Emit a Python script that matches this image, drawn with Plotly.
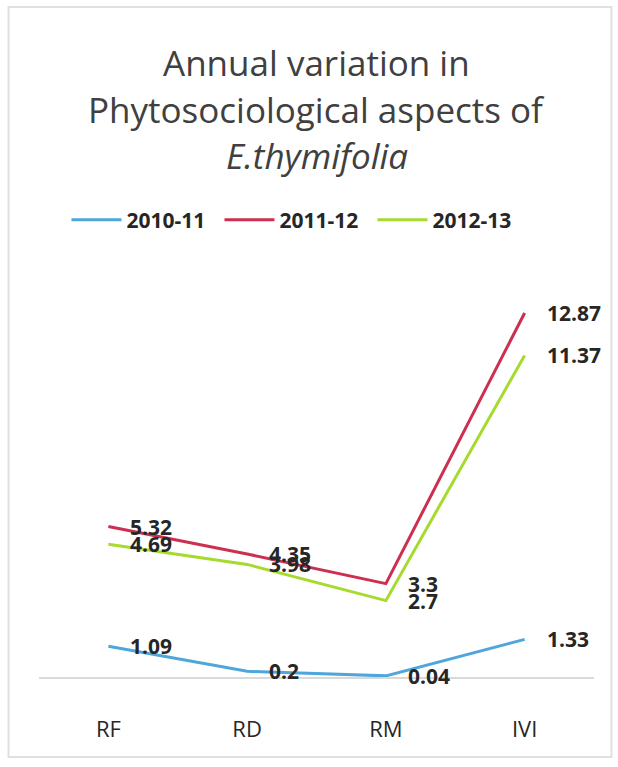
import plotly.graph_objects as go

categories = ["RF", "RD", "RM", "IVI"]
series_names = ["2010-11", "2011-12", "2012-13"]
values_2010_11 = [1.09, 0.2, 0.04, 1.33]
values_2011_12 = [5.32, 4.35, 3.3, 12.87]
values_2012_13 = [4.69, 3.98, 2.7, 11.37]
colors = ["#4FA6DA", "#CC2F50", "#A6DA2C"]

all_values = [values_2010_11, values_2011_12, values_2012_13]

L, R, T, B = 38.5, 23.5, 281, 90
W, H = 618, 767
pw, ph = W - L - R, H - T - B

def px_x(p):
    return (p - L) / pw

def px_y(p):
    return (H - B - p) / ph

fig = go.Figure()
for name, vals, col in zip(series_names, all_values, colors):
    fig.add_trace(go.Scatter(x=categories, y=vals, mode="lines", name=name,
                             line=dict(color=col, width=3)))

annotations = []
for vals in all_values:
    for c, v in zip(categories, vals):
        annotations.append(dict(x=c, y=v, xref="x", yref="y", text="<b>%s</b>" % v,
                                showarrow=False, xanchor="left", yanchor="middle",
                                xshift=20, font=dict(family="Open Sans", size=21, color="#262626")))

title_lines = ["Annual variation in", "Phytosociological aspects of", "<i>E.thymifolia</i>"]
title_px = [62, 110, 155]
for t, yy in zip(title_lines, title_px):
    annotations.append(dict(x=0.5, y=px_y(yy), xref="paper", yref="paper", text=t, showarrow=False,
                            xanchor="center", yanchor="middle",
                            font=dict(family="Open Sans", size=35, color="#404040")))

fig.update_layout(
    width=W, height=H,
    margin=dict(l=L, r=R, t=T, b=B),
    paper_bgcolor="white", plot_bgcolor="white",
    showlegend=True,
    legend=dict(orientation="h", x=0.463, xanchor="center", y=px_y(220), yanchor="middle",
                font=dict(family="Open Sans", size=21, color="#262626", weight="bold"),
                itemwidth=50, entrywidth=88, entrywidthmode="pixels",
                bgcolor="rgba(0,0,0,0)"),
    xaxis=dict(showgrid=False, showline=True, linecolor="#D9D9D9", linewidth=2,
               range=[-0.5, 3.5],
               ticks="", tickfont=dict(family="Open Sans", size=22, color="#262626"),
               ticklabelstandoff=32, zeroline=False, fixedrange=True),
    yaxis=dict(range=[0, 14], showgrid=False, showticklabels=False, zeroline=False,
               showline=False, ticks=""),
    annotations=annotations,
    shapes=[dict(type="rect", xref="paper", yref="paper",
                 x0=px_x(8), x1=px_x(612), y0=px_y(757), y1=px_y(7),
                 line=dict(color="#E0E0E0", width=2), fillcolor="rgba(0,0,0,0)")],
)

fig.write_html("out.html", config={"displayModeBar": False},
               post_script="document.body.style.margin='0';")
